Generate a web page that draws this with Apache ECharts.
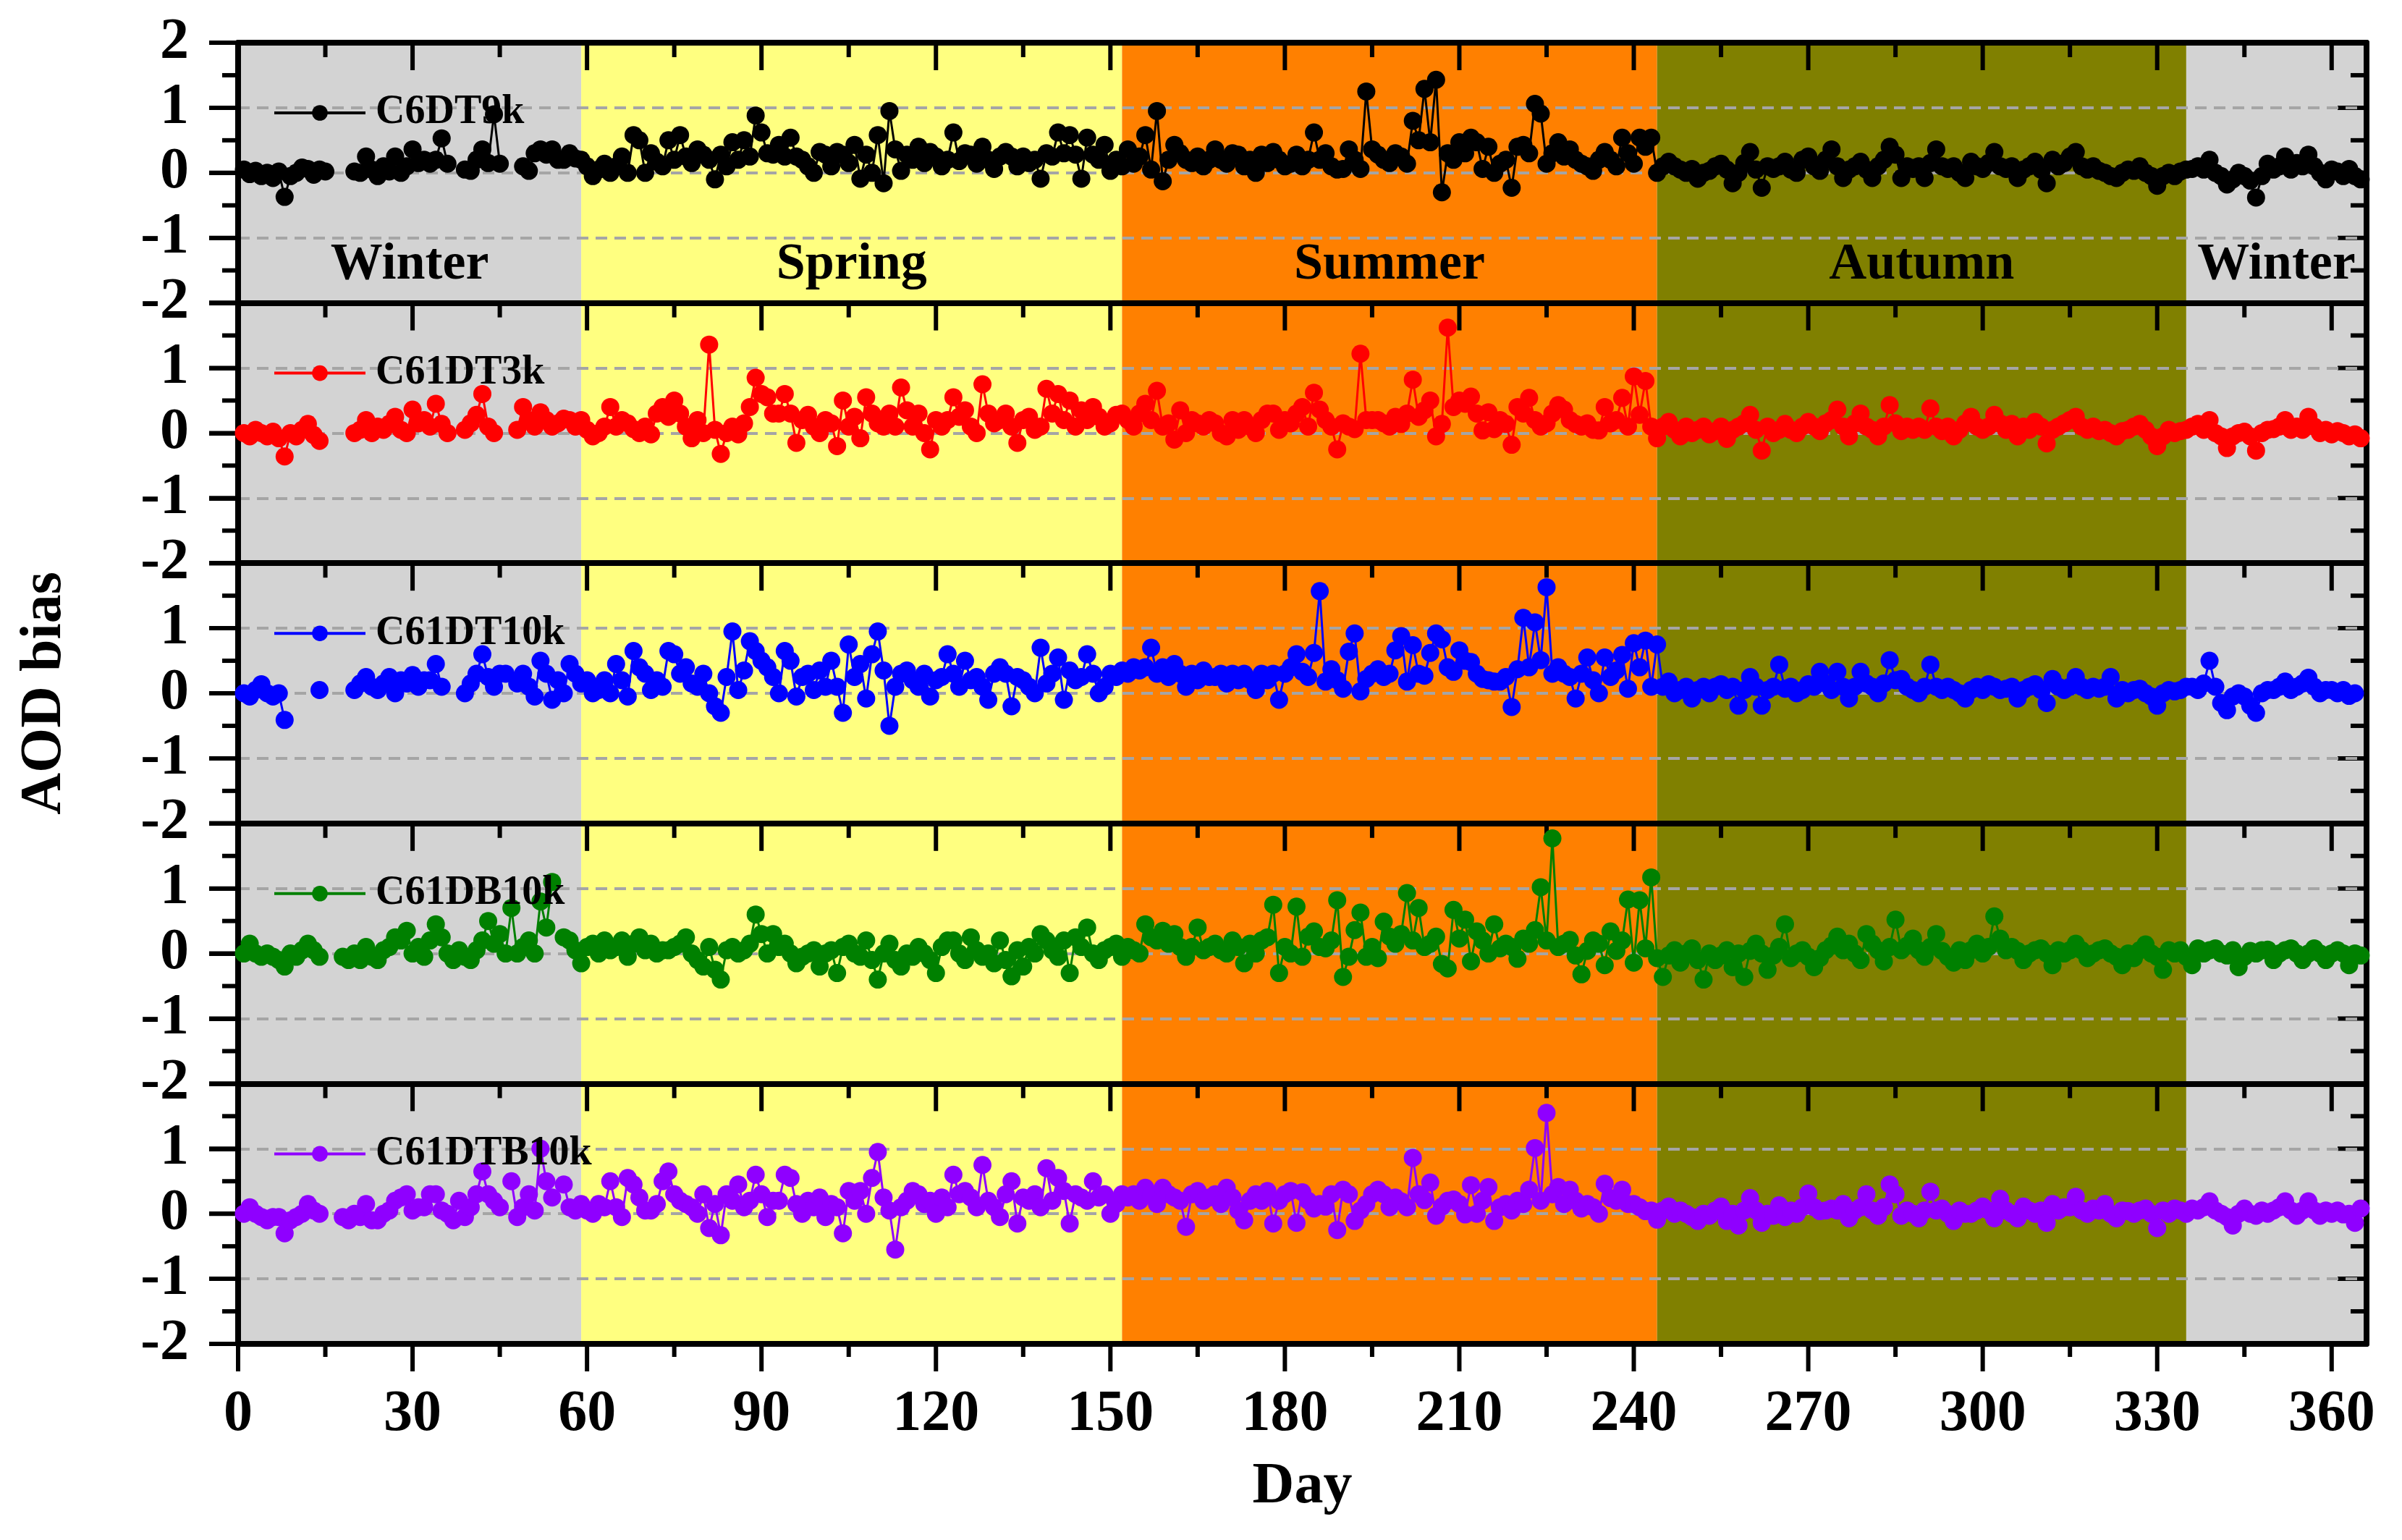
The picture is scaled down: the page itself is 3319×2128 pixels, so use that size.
<!DOCTYPE html>
<html>
<head>
<meta charset="utf-8">
<title>AOD bias by day</title>
<script src="https://cdn.jsdelivr.net/npm/echarts@6/dist/echarts.min.js"></script>
<style>
html, body { margin:0; padding:0; background:#fff; }
#chart { width:3319px; height:2128px; }
</style>
</head>
<body>
<div id="chart"></div>
<script>
var seriesNames = ['C6DT9k', 'C61DT3k', 'C61DT10k', 'C61DB10k', 'C61DTB10k'];
var seriesColors = ['#000000', '#FF0000', '#0000FF', '#008000', '#8F00FF'];

var seasonNames = ['Winter', 'Spring', 'Summer', 'Autumn', 'Winter'];
var seasonStart = [0, 59, 152, 244, 335];
var seasonEnd = [59, 152, 244, 335, 366];
var seasonColors = ['#D3D3D3', '#FFFF80', '#FF8000', '#808000', '#D3D3D3'];

var dayTicks = [0, 30, 60, 90, 120, 150, 180, 210, 240, 270, 300, 330, 360];
var dayMinorTicks = [15, 45, 75, 105, 135, 165, 195, 225, 255, 285, 315, 345];
var biasTicks = [-2, -1, 0, 1, 2];
var biasMinorTicks = [-1.5, -0.5, 0.5, 1.5];

// day of year 1..365
var days = [];
for (var d = 1; d <= 365; d++) days.push(d);

// values per day, null = no data
var c6dt9k = [
/*  1*/ 0.05,-0.02,0.03,-0.05,0.00,-0.08,0.02,-0.37,-0.05,0.00,
/* 11*/ 0.08,0.06,-0.03,0.05,0.02,null,null,null,null,0.02,
/* 21*/ 0.00,0.25,0.05,-0.05,0.10,0.02,0.25,0.00,0.10,0.36,
/* 31*/ 0.15,0.20,0.14,0.20,0.53,0.14,null,null,0.05,0.03,
/* 41*/ 0.20,0.36,0.15,0.90,0.14,null,null,null,0.10,0.03,
/* 51*/ 0.30,0.36,0.28,0.36,0.20,0.20,0.30,0.22,0.20,0.10,
/* 61*/ -0.05,0.05,0.14,0.00,0.10,0.25,0.00,0.58,0.50,0.00,
/* 71*/ 0.30,0.17,0.10,0.50,0.20,0.58,0.25,0.15,0.36,0.28,
/* 81*/ 0.20,-0.10,0.28,0.10,0.47,0.20,0.50,0.25,0.88,0.62,
/* 91*/ 0.30,0.28,0.43,0.25,0.54,0.25,0.20,0.10,0.00,0.32,
/*101*/ 0.28,0.10,0.32,0.28,0.15,0.43,-0.09,0.28,0.00,0.58,
/*111*/ -0.16,0.95,0.36,0.03,0.28,0.20,0.40,0.15,0.32,0.25,
/*121*/ 0.10,0.20,0.62,0.18,0.30,0.28,0.14,0.40,0.20,0.06,
/*131*/ 0.25,0.32,0.25,0.10,0.25,0.15,0.20,-0.09,0.30,0.25,
/*141*/ 0.62,0.30,0.58,0.28,-0.09,0.54,0.28,0.20,0.43,0.03,
/*151*/ 0.20,0.10,0.36,0.14,0.25,0.58,0.05,0.95,-0.13,0.20,
/*161*/ 0.43,0.30,0.20,0.15,0.25,0.10,0.20,0.36,0.20,0.14,
/*171*/ 0.30,0.28,0.10,0.20,0.00,0.28,0.15,0.32,0.20,0.10,
/*181*/ 0.14,0.28,0.10,0.20,0.62,0.20,0.30,0.10,0.05,0.06,
/*191*/ 0.36,0.20,0.06,1.25,0.36,0.28,0.20,0.15,0.30,0.25,
/*201*/ 0.14,0.80,0.50,1.29,0.47,1.43,-0.30,0.30,0.20,0.47,
/*211*/ 0.30,0.54,0.47,0.06,0.40,0.00,0.14,0.20,-0.23,0.40,
/*221*/ 0.43,0.30,1.06,0.91,0.14,0.30,0.47,0.25,0.36,0.20,
/*231*/ 0.14,0.10,0.03,0.20,0.32,0.20,0.10,0.54,0.30,0.14,
/*241*/ 0.54,0.40,0.54,0.00,0.10,0.17,0.10,0.05,0.00,0.06,
/*251*/ -0.09,0.00,0.03,0.10,0.14,0.05,-0.16,0.00,0.15,0.32,
/*261*/ 0.05,-0.23,0.10,0.06,0.10,0.17,0.05,0.00,0.20,0.25,
/*271*/ 0.10,0.03,0.20,0.36,0.10,-0.08,0.05,0.10,0.17,0.05,
/*281*/ -0.08,0.10,0.20,0.40,0.28,-0.08,0.10,0.06,0.10,-0.08,
/*291*/ 0.15,0.36,0.10,0.06,0.10,0.00,-0.08,0.17,0.10,0.06,
/*301*/ 0.15,0.32,0.10,0.06,0.10,-0.08,0.05,0.10,0.17,0.05,
/*311*/ -0.16,0.20,0.10,0.15,0.25,0.32,0.10,0.05,0.10,0.03,
/*321*/ 0.00,-0.05,-0.08,0.00,0.05,0.03,0.10,0.00,-0.05,-0.20,
/*331*/ -0.05,0.00,-0.05,0.02,0.05,0.06,0.10,0.05,0.20,0.00,
/*341*/ -0.05,-0.18,-0.10,0.00,-0.05,-0.12,-0.38,-0.05,0.14,0.05,
/*351*/ 0.10,0.25,0.05,0.15,0.10,0.28,0.10,0.00,-0.10,0.05,
/*361*/ 0.02,-0.05,0.06,-0.05,-0.10
];

var c61dt3k = [
/*  1*/ 0.00,-0.05,0.05,0.00,-0.05,0.02,-0.08,-0.36,0.00,-0.05,
/* 11*/ 0.05,0.14,-0.03,-0.12,null,null,null,null,null,0.00,
/* 21*/ 0.05,0.20,0.00,0.10,0.05,0.14,0.25,0.05,0.00,0.36,
/* 31*/ 0.15,0.20,0.10,0.45,0.14,0.00,null,null,0.05,0.15,
/* 41*/ 0.28,0.60,0.10,0.00,null,null,null,0.05,0.40,0.20,
/* 51*/ 0.10,0.32,0.20,0.10,0.15,0.22,0.20,0.10,0.20,0.05,
/* 61*/ -0.05,0.00,0.10,0.40,0.10,0.20,0.15,0.06,0.00,0.10,
/* 71*/ -0.02,0.30,0.40,0.25,0.50,0.30,0.10,-0.08,0.20,0.00,
/* 81*/ 1.36,0.05,-0.32,0.00,0.10,-0.02,0.15,0.40,0.85,0.60,
/* 91*/ 0.55,0.30,0.30,0.60,0.30,-0.15,0.20,0.28,0.10,0.00,
/*101*/ 0.20,0.15,-0.20,0.50,0.10,0.25,-0.08,0.55,0.30,0.15,
/*111*/ 0.10,0.30,0.10,0.70,0.35,0.10,0.30,0.00,-0.25,0.20,
/*121*/ 0.10,0.20,0.55,0.25,0.35,0.10,0.00,0.75,0.30,0.15,
/*131*/ 0.20,0.30,0.10,-0.15,0.20,0.25,0.05,0.10,0.68,0.30,
/*141*/ 0.60,0.20,0.50,0.10,0.35,0.20,0.40,0.25,0.10,0.15,
/*151*/ 0.28,0.30,0.20,0.10,0.30,0.45,0.20,0.65,0.10,0.15,
/*161*/ -0.10,0.35,0.00,0.20,0.15,0.10,0.20,0.15,0.00,-0.05,
/*171*/ 0.20,0.05,0.20,0.10,0.00,0.20,0.30,0.30,0.05,0.20,
/*181*/ 0.15,0.30,0.40,0.10,0.62,0.36,0.20,0.10,-0.25,0.15,
/*191*/ 0.10,0.06,1.22,0.20,0.20,0.20,0.15,0.10,0.25,0.14,
/*201*/ 0.30,0.82,0.25,0.35,0.50,-0.05,0.14,1.62,0.40,0.50,
/*211*/ 0.45,0.56,0.30,0.04,0.32,0.06,0.20,0.14,-0.18,0.40,
/*221*/ 0.30,0.54,0.20,0.10,0.15,0.30,0.43,0.36,0.20,0.14,
/*231*/ 0.10,0.15,0.05,0.04,0.40,0.15,0.20,0.54,0.10,0.87,
/*241*/ 0.28,0.80,0.10,-0.08,0.10,0.17,0.05,-0.05,0.10,0.00,
/*251*/ 0.05,0.10,-0.02,0.03,0.10,-0.09,0.05,0.10,0.15,0.28,
/*261*/ 0.05,-0.27,0.10,0.00,0.05,0.14,0.05,0.00,0.10,0.17,
/*271*/ 0.10,0.03,0.15,0.20,0.36,0.10,-0.05,0.15,0.30,0.10,
/*281*/ 0.05,-0.05,0.10,0.43,0.15,0.03,0.10,0.05,0.10,0.05,
/*291*/ 0.38,0.10,0.03,0.10,-0.05,0.05,0.15,0.25,0.10,0.05,
/*301*/ 0.10,0.28,0.15,0.05,0.14,-0.05,0.10,0.05,0.17,0.10,
/*311*/ -0.16,0.05,0.10,0.15,0.20,0.25,0.10,0.05,0.10,0.03,
/*321*/ 0.05,0.00,-0.05,0.03,0.05,0.10,0.14,0.05,-0.05,-0.20,
/*331*/ -0.05,0.05,0.00,0.03,0.05,0.10,0.14,0.05,0.20,0.00,
/*341*/ -0.05,-0.23,-0.05,0.00,0.02,-0.05,-0.27,0.00,0.05,0.06,
/*351*/ 0.10,0.20,0.05,0.10,0.05,0.25,0.10,0.00,0.05,-0.02,
/*361*/ 0.03,0.00,-0.05,-0.02,-0.08
];

var c61dt10k = [
/*  1*/ 0.00,-0.05,0.05,0.14,0.00,-0.05,0.00,-0.41,null,null,
/* 11*/ null,null,null,0.05,null,null,null,null,null,0.05,
/* 21*/ 0.15,0.25,0.10,0.05,0.15,0.25,0.00,0.20,0.15,0.28,
/* 31*/ 0.10,0.20,0.20,0.45,0.10,null,null,null,0.00,0.15,
/* 41*/ 0.30,0.60,0.25,0.10,0.30,0.30,null,0.15,0.30,0.10,
/* 51*/ -0.05,0.50,0.30,-0.10,0.20,0.00,0.45,0.30,0.15,0.20,
/* 61*/ 0.00,0.05,0.20,0.00,0.45,0.20,-0.05,0.65,0.40,0.30,
/* 71*/ 0.05,0.20,0.10,0.65,0.60,0.30,0.40,0.15,0.10,0.30,
/* 81*/ 0.00,-0.20,-0.30,0.25,0.95,0.05,0.35,0.80,0.65,0.50,
/* 91*/ 0.40,0.25,0.00,0.65,0.50,-0.05,0.25,0.30,0.05,0.35,
/*101*/ 0.10,0.50,0.10,-0.30,0.75,0.25,0.45,-0.08,0.60,0.95,
/*111*/ 0.35,-0.50,0.10,0.30,0.35,0.20,0.10,0.30,-0.05,0.20,
/*121*/ 0.25,0.60,0.30,0.10,0.50,0.20,0.25,0.10,-0.10,0.30,
/*131*/ 0.40,0.30,-0.20,0.25,0.20,0.10,0.00,0.70,0.15,0.30,
/*141*/ 0.55,-0.10,0.35,0.20,0.25,0.60,0.30,0.00,0.10,0.30,
/*151*/ 0.25,0.35,0.30,0.40,0.35,0.40,0.70,0.30,0.40,0.25,
/*161*/ 0.45,0.30,0.10,0.30,0.20,0.35,0.25,0.25,0.30,0.15,
/*171*/ 0.30,0.20,0.30,0.20,0.05,0.30,0.20,0.30,-0.10,0.30,
/*181*/ 0.40,0.60,0.33,0.25,0.62,1.57,0.18,0.37,0.20,0.07,
/*191*/ 0.64,0.92,0.03,0.22,0.30,0.37,0.25,0.30,0.66,0.88,
/*201*/ 0.18,0.74,0.30,0.27,0.62,0.92,0.83,0.40,0.33,0.66,
/*211*/ 0.50,0.48,0.30,0.22,0.20,0.18,0.18,0.25,-0.21,0.37,
/*221*/ 1.16,0.40,1.09,0.51,1.63,0.30,0.40,0.30,0.25,-0.08,
/*231*/ 0.30,0.55,0.20,0.00,0.55,0.25,0.35,0.59,0.07,0.77,
/*241*/ 0.40,0.81,0.10,0.75,0.10,0.18,0.00,0.05,0.10,-0.08,
/*251*/ 0.05,0.10,0.00,0.10,0.14,0.05,0.10,-0.19,0.05,0.25,
/*261*/ 0.10,-0.19,0.05,0.10,0.44,0.07,0.10,0.00,0.05,0.14,
/*271*/ 0.10,0.33,0.15,0.05,0.33,0.10,-0.08,0.10,0.33,0.15,
/*281*/ 0.10,0.00,0.15,0.51,0.20,0.22,0.10,0.05,0.00,0.10,
/*291*/ 0.44,0.10,0.05,0.10,0.05,0.00,-0.08,0.05,0.10,0.05,
/*301*/ 0.14,0.10,0.05,0.07,0.10,-0.08,0.05,0.10,0.14,0.05,
/*311*/ -0.15,0.22,0.10,0.05,0.10,0.25,0.10,0.05,0.10,0.07,
/*321*/ 0.10,0.25,-0.08,0.05,0.00,0.05,0.07,0.00,-0.05,-0.19,
/*331*/ 0.00,0.05,0.03,0.05,0.10,0.10,0.05,0.15,0.50,0.10,
/*341*/ -0.15,-0.26,-0.05,0.00,-0.05,-0.19,-0.30,0.00,0.05,0.05,
/*351*/ 0.10,0.18,0.05,0.10,0.15,0.24,0.10,0.00,0.05,0.05,
/*361*/ 0.00,0.05,-0.04,0.00,null
];

var c61db10k = [
/*  1*/ 0.00,0.15,0.00,-0.05,0.00,-0.05,-0.10,-0.20,0.00,-0.05,
/* 11*/ 0.05,0.15,0.05,-0.05,null,null,null,-0.05,-0.10,0.00,
/* 21*/ -0.10,0.10,-0.05,-0.10,0.05,0.10,0.25,0.20,0.35,0.00,
/* 31*/ 0.10,-0.05,0.20,0.45,0.25,0.00,-0.10,0.05,-0.05,-0.10,
/* 41*/ 0.05,0.20,0.50,0.15,0.30,0.00,0.70,0.00,0.10,0.20,
/* 51*/ 0.00,0.80,0.40,1.10,null,0.25,0.20,0.05,-0.15,0.10,
/* 61*/ 0.15,0.00,0.20,0.05,0.10,0.20,-0.05,0.15,0.25,0.05,
/* 71*/ 0.15,0.00,0.05,0.05,0.10,0.15,0.25,0.00,-0.10,-0.20,
/* 81*/ 0.10,-0.25,-0.40,0.05,0.10,0.00,0.05,0.15,0.60,0.30,
/* 91*/ 0.00,0.30,0.10,0.15,0.00,-0.15,-0.05,0.00,0.05,-0.20,
/*101*/ 0.00,0.05,-0.30,0.10,0.15,0.00,-0.05,0.20,-0.10,-0.40,
/*111*/ 0.00,0.15,-0.10,-0.20,0.00,-0.05,0.10,0.00,-0.10,-0.30,
/*121*/ 0.10,0.20,0.20,0.00,-0.10,0.25,0.05,-0.05,0.00,-0.15,
/*131*/ 0.20,-0.10,-0.35,0.05,-0.20,0.10,0.00,0.30,0.20,0.05,
/*141*/ -0.05,0.20,-0.30,0.25,0.10,0.40,0.00,-0.10,0.05,0.10,
/*151*/ 0.15,-0.05,0.10,0.05,0.00,0.45,0.25,0.20,0.35,0.15,
/*161*/ 0.30,0.10,-0.05,0.10,0.40,0.05,0.10,0.15,0.05,0.00,
/*171*/ 0.20,0.10,-0.15,0.15,0.00,0.20,0.25,0.75,-0.30,0.10,
/*181*/ 0.00,0.72,-0.05,0.26,0.34,0.10,0.08,0.20,0.82,-0.36,
/*191*/ -0.05,0.36,0.63,-0.05,0.10,-0.07,0.49,0.26,0.15,0.30,
/*201*/ 0.93,0.20,0.70,0.10,0.15,0.26,-0.16,-0.23,0.67,0.23,
/*211*/ 0.52,-0.12,0.34,0.20,0.00,0.45,0.08,0.15,0.10,-0.08,
/*221*/ 0.23,0.15,0.36,1.02,0.20,1.77,0.10,0.15,0.21,-0.03,
/*231*/ -0.32,0.04,0.20,0.15,-0.18,0.34,0.04,0.20,0.83,-0.14,
/*241*/ 0.82,0.08,1.17,-0.07,-0.36,-0.03,0.05,-0.14,0.00,0.08,
/*251*/ -0.10,-0.40,0.00,-0.10,-0.03,0.05,-0.21,0.00,-0.36,0.04,
/*261*/ 0.15,0.00,-0.25,-0.03,0.10,0.45,-0.07,0.00,0.05,-0.05,
/*271*/ -0.21,-0.07,0.05,0.12,0.26,0.05,0.15,0.00,-0.10,0.30,
/*281*/ 0.15,0.05,-0.12,0.10,0.52,0.05,0.12,0.23,0.05,-0.05,
/*291*/ 0.10,0.30,0.04,-0.05,-0.14,0.05,-0.10,0.05,0.15,0.00,
/*301*/ 0.10,0.57,0.23,0.05,0.10,0.04,-0.10,0.00,0.05,0.08,
/*311*/ 0.00,-0.18,0.05,0.00,0.05,0.15,0.05,-0.07,0.00,0.05,
/*321*/ 0.08,0.00,-0.05,-0.18,0.00,-0.07,0.05,0.14,0.00,-0.05,
/*331*/ -0.25,0.05,0.00,0.05,-0.05,-0.18,0.08,0.00,0.05,0.08,
/*341*/ 0.00,-0.03,0.05,-0.21,-0.05,0.04,0.00,0.05,0.06,-0.10,
/*351*/ 0.00,0.05,0.08,0.00,-0.10,0.00,0.08,0.00,-0.10,0.00,
/*361*/ 0.05,0.00,-0.18,0.00,-0.03
];

var c61dtb10k = [
/*  1*/ 0.00,0.10,0.00,-0.05,-0.10,-0.05,-0.05,-0.30,-0.10,-0.05,
/* 11*/ 0.00,0.15,0.05,0.00,null,null,null,-0.05,-0.10,0.00,
/* 21*/ -0.05,0.15,-0.10,-0.10,0.00,0.05,0.20,0.25,0.30,0.05,
/* 31*/ 0.10,0.10,0.30,0.30,0.05,0.00,-0.10,0.20,-0.05,0.10,
/* 41*/ 0.30,0.65,0.30,0.20,0.10,null,0.50,-0.05,0.10,0.30,
/* 51*/ 0.05,1.00,0.50,0.25,null,0.45,0.10,0.05,0.15,0.05,
/* 61*/ 0.00,0.15,0.10,0.50,0.10,-0.05,0.55,0.45,0.25,0.05,
/* 71*/ 0.05,0.15,0.50,0.65,0.30,0.20,0.15,0.10,0.00,0.30,
/* 81*/ -0.22,0.15,-0.33,0.30,0.20,0.45,0.10,0.20,0.60,0.30,
/* 91*/ -0.05,0.20,0.20,0.60,0.55,0.15,0.00,0.20,0.10,0.25,
/*101*/ -0.05,0.15,0.10,-0.30,0.35,0.20,0.35,0.00,0.55,0.95,
/*111*/ 0.25,0.05,-0.55,0.10,0.20,0.35,0.30,0.15,0.20,0.00,
/*121*/ 0.25,0.10,0.60,0.30,0.35,0.25,0.10,0.75,0.20,0.10,
/*131*/ -0.05,0.30,0.50,-0.15,0.25,0.20,0.30,0.10,0.70,0.20,
/*141*/ 0.55,0.35,-0.15,0.30,0.25,0.20,0.50,0.25,0.30,0.00,
/*151*/ 0.15,0.30,0.25,0.30,0.20,0.40,0.30,0.15,0.40,0.30,
/*161*/ 0.25,0.20,-0.20,0.30,0.35,0.20,0.25,0.30,0.15,0.40,
/*171*/ 0.25,0.05,-0.10,0.20,0.30,0.20,0.35,-0.15,0.20,0.30,
/*181*/ 0.35,-0.14,0.33,0.20,0.08,0.15,0.11,0.30,-0.25,0.37,
/*191*/ 0.30,-0.11,0.05,0.15,0.30,0.37,0.30,0.10,0.25,0.19,
/*201*/ 0.10,0.86,0.30,0.21,0.48,-0.03,0.11,0.20,0.22,0.15,
/*211*/ -0.01,0.44,0.00,0.20,0.41,-0.11,0.10,0.15,0.05,0.20,
/*221*/ 0.15,0.37,1.01,0.20,1.55,0.30,0.41,0.15,0.37,0.20,
/*231*/ 0.08,0.15,0.10,0.00,0.46,0.24,0.20,0.37,0.15,0.15,
/*241*/ 0.10,0.04,0.05,-0.09,0.05,0.11,0.00,0.05,0.00,-0.05,
/*251*/ -0.11,0.00,-0.03,0.05,0.11,-0.11,0.00,-0.18,0.05,0.24,
/*261*/ 0.05,-0.14,0.00,-0.03,0.13,-0.05,0.05,0.00,0.10,0.31,
/*271*/ 0.10,0.04,0.05,0.08,0.05,0.15,-0.07,0.05,0.10,0.30,
/*281*/ 0.05,-0.03,0.10,0.45,0.30,-0.03,0.05,0.00,-0.07,0.05,
/*291*/ 0.34,0.05,0.08,0.00,-0.11,0.05,0.00,0.00,0.05,0.11,
/*301*/ 0.05,-0.07,0.23,0.05,0.00,-0.07,0.11,0.05,0.00,0.05,
/*311*/ -0.14,0.15,0.05,0.10,0.10,0.26,0.05,0.00,0.08,0.05,
/*321*/ 0.15,0.00,-0.07,0.05,0.04,0.00,0.05,0.08,0.00,-0.22,
/*331*/ 0.05,0.00,0.08,0.05,0.00,0.08,0.05,0.10,0.19,0.05,
/*341*/ 0.00,-0.05,-0.18,0.00,0.08,0.00,-0.03,0.05,0.00,0.05,
/*351*/ 0.10,0.19,0.05,-0.03,0.05,0.19,0.05,-0.03,0.05,0.00,
/*361*/ 0.05,-0.01,0.00,-0.14,0.08
];

var seriesValues = [c6dt9k, c61dt3k, c61dt10k, c61db10k, c61dtb10k];
seriesValues.forEach(function (a, k) {
	if (a.length !== days.length) throw new Error(seriesNames[k] + ' has ' + a.length + ' values');
});

var FONT = '"Liberation Serif", "Times New Roman", serif';
var panelTop = 59, panelH = 359.6, gridLeft = 329, gridRight = 49;
var DAY_MAX = 366;

function black(w) { return { color: '#000', width: w }; }

function tickBar(x, y, w, h) {
	return { type: 'rect', shape: { x: x, y: y, width: w, height: h }, style: { fill: '#000' } };
}

// season bands (and, with withTicks, the frame ticks) drawn as one custom series
function seasonRenderer(withLabels, withTicks, isLast) {
	return function (params, api) {
		var p0 = api.coord([api.value(0), 2]);
		var p1 = api.coord([api.value(1), -2]);
		var idx = api.value(2);
		var children = [{
			type: 'rect',
			shape: { x: p0[0], y: p0[1], width: p1[0] - p0[0], height: p1[1] - p0[1] },
			style: { fill: seasonColors[idx] }
		}];
		if (withLabels) {
			children.push({
				type: 'text',
				x: (p0[0] + p1[0]) / 2, y: p1[1] - 16,
				style: { text: seasonNames[idx], fill: '#000', align: 'center', verticalAlign: 'bottom',
					font: 'bold 72px ' + FONT }
			});
		}
		if (withTicks && params.dataIndex === seasonNames.length - 1) {
			var allDays = dayTicks.concat(dayMinorTicks);
			for (var a = 0; a < allDays.length; a++) {
				var major = a < dayTicks.length;
				var pt = api.coord([allDays[a], 2]);
				children.push(tickBar(pt[0] - 3, pt[1], 6, major ? 38 : 20));
				if (isLast) {
					var pb = api.coord([allDays[a], -2]);
					children.push(tickBar(pb[0] - 3, pb[1], 6, major ? 38 : 18));
				}
			}
			var allBias = biasTicks.concat(biasMinorTicks);
			for (var b = 0; b < allBias.length; b++) {
				var len = b < biasTicks.length ? 40 : 22;
				var pl = api.coord([0, allBias[b]]);
				children.push(tickBar(pl[0] - len, pl[1] - 3, len, 6));
				if (Math.abs(allBias[b]) < 2) {
					var pr = api.coord([DAY_MAX, allBias[b]]);
					children.push(tickBar(pr[0] - len, pr[1] - 3, len, 6));
				}
			}
		}
		return { type: 'group', children: children };
	};
}

function makeTitle() {
	return {
		type: 'text', x: 62, y: panelTop + 2.5 * panelH, rotation: Math.PI / 2,
		style: { text: 'AOD bias', fill: '#000', align: 'center', verticalAlign: 'middle', font: 'bold 80px ' + FONT }
	};
}

function buildOption(withTicks) {
	var grids = [], xAxes = [], yAxes = [], series = [], legends = [];
	var seasonData = [];
	for (var s = 0; s < seasonNames.length; s++) seasonData.push([seasonStart[s], seasonEnd[s], s]);

	for (var i = 0; i < 5; i++) {
		var top = panelTop + i * panelH;
		grids.push({ left: gridLeft, right: gridRight, top: top, height: panelH });

		xAxes.push({
			type: 'value', gridIndex: i, position: 'top', min: 0, max: DAY_MAX, interval: 30, z: 2,
			axisLine: { show: true, onZero: false, lineStyle: black(8) },
			axisTick: { show: false }, axisLabel: { show: false }, splitLine: { show: false }
		});

		yAxes.push({
			type: 'value', gridIndex: i, position: 'left', min: -2, max: 2, interval: 1, z: 1,
			axisLine: { show: true, onZero: false, lineStyle: black(8) },
			axisTick: { show: true, length: 40, lineStyle: black(6) },
			axisLabel: {
				show: true, margin: 68, fontSize: 80, fontWeight: 'bold', fontFamily: FONT, color: '#000',
				showMaxLabel: i === 0
			},
			splitLine: { show: true, lineStyle: { color: '#A5A5A5', width: 4, type: [16, 10] } }
		});
		yAxes.push({
			type: 'value', gridIndex: i, position: 'right', min: -2, max: 2, interval: 1, z: 2,
			axisLine: { show: true, onZero: false, lineStyle: black(8) },
			axisTick: { show: false }, axisLabel: { show: false }, splitLine: { show: false }
		});

		series.push({
			type: 'custom', xAxisIndex: i, yAxisIndex: 2 * i, z: 0, silent: true,
			renderItem: seasonRenderer(i === 0, withTicks, i === 4), data: seasonData,
			clip: !withTicks
		});

		var vals = seriesValues[i];
		var pts = [];
		for (var k = 0; k < days.length; k++) pts.push([days[k], vals[k] === null ? '-' : vals[k]]);
		series.push({
			name: seriesNames[i], type: 'line', xAxisIndex: i, yAxisIndex: 2 * i, z: 3,
			data: pts, symbol: 'circle', symbolSize: 25, showAllSymbol: true, connectNulls: false,
			itemStyle: { color: seriesColors[i] },
			lineStyle: { color: seriesColors[i], width: 3 }
		});

		legends.push({
			data: [seriesNames[i]], left: 377, top: top + 69, padding: 0,
			itemWidth: 126, itemHeight: 27, selectedMode: false,
			lineStyle: { width: 4 },
			textStyle: { fontSize: 56, fontWeight: 'bold', fontFamily: FONT, color: '#000', padding: [0, 0, 0, 9] }
		});
	}

	// bottom edge of the last panel carries the day labels
	xAxes.push({
		type: 'value', gridIndex: 4, position: 'bottom', min: 0, max: DAY_MAX, interval: 30, z: 2,
		name: 'Day', nameLocation: 'middle', nameGap: 158,
		nameTextStyle: { fontSize: 80, fontWeight: 'bold', fontFamily: FONT, color: '#000' },
		axisLine: { show: true, onZero: false, lineStyle: black(8) },
		axisTick: { show: false },
		axisLabel: {
			show: true, margin: 58, fontSize: 80, fontWeight: 'bold', fontFamily: FONT, color: '#000',
			formatter: function (v) { return v % 30 === 0 ? String(v) : ''; }
		},
		splitLine: { show: false }
	});

	return {
		animation: false,
		backgroundColor: '#ffffff',
		textStyle: { fontFamily: FONT },
		grid: grids,
		xAxis: xAxes,
		yAxis: yAxes,
		legend: legends,
		series: series,
		graphic: [makeTitle()]
	};
}

// second way to get the frame ticks: graphic bars placed via the axes' pixel conversion
function graphicTicks(chart) {
	var els = [makeTitle()];
	for (var i = 0; i < 5; i++) {
		var yTop = chart.convertToPixel({ yAxisIndex: 2 * i }, 2);
		var yBot = chart.convertToPixel({ yAxisIndex: 2 * i }, -2);
		var xLeft = chart.convertToPixel({ xAxisIndex: i }, 0);
		var xRight = chart.convertToPixel({ xAxisIndex: i }, DAY_MAX);
		var allDays = dayTicks.concat(dayMinorTicks);
		for (var a = 0; a < allDays.length; a++) {
			var major = a < dayTicks.length;
			var x = chart.convertToPixel({ xAxisIndex: i }, allDays[a]);
			var t1 = tickBar(x - 3, yTop, 6, major ? 38 : 20); t1.z = 5; els.push(t1);
			if (i === 4) { var t2 = tickBar(x - 3, yBot, 6, major ? 38 : 18); t2.z = 5; els.push(t2); }
		}
		var allBias = biasTicks.concat(biasMinorTicks);
		for (var b = 0; b < allBias.length; b++) {
			var len = b < biasTicks.length ? 40 : 22;
			var y = chart.convertToPixel({ yAxisIndex: 2 * i }, allBias[b]);
			var t3 = tickBar(xLeft - len, y - 3, len, 6); t3.z = 5; els.push(t3);
			if (Math.abs(allBias[b]) < 2) { var t4 = tickBar(xRight - len, y - 3, len, 6); t4.z = 5; els.push(t4); }
		}
	}
	return els;
}

var dom = document.getElementById('chart');
var myChart = null;

function render(withTicks) {
	try {
		myChart = echarts.init(dom, null, { renderer: 'canvas' });
		myChart.setOption(buildOption(withTicks));
		return true;
	} catch (e) {
		echarts.dispose(dom);
		myChart = null;
		return false;
	}
}

if (!render(true)) {
	render(false);
	if (myChart) {
		try {
			myChart.setOption({ graphic: graphicTicks(myChart) });
		} catch (e2) {
			echarts.dispose(dom);
			render(false);
		}
	}
}
</script>
</body>
</html>
